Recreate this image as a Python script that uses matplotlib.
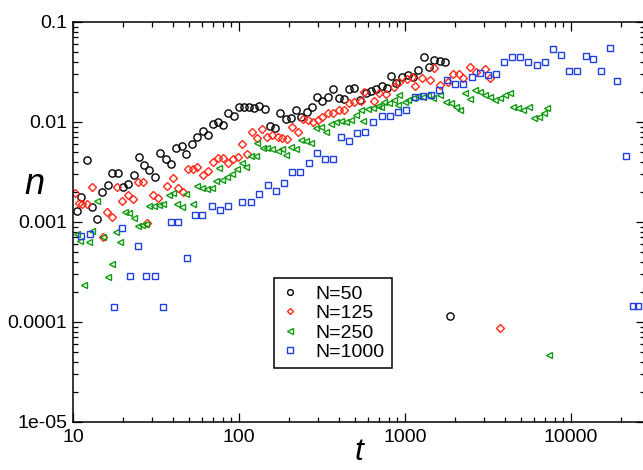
import matplotlib
matplotlib.use("Agg")
import matplotlib.pyplot as plt
from matplotlib.ticker import LogLocator, FixedLocator, FixedFormatter, NullFormatter

plt.rcParams['font.family'] = ['Liberation Sans', 'DejaVu Sans']

# number density n(t) for several system sizes
t_50 = [10.5, 11.2, 12.1, 13.0, 13.9, 15.0, 16.2, 17.3, 18.7, 20.1, 21.5, 23.2, 25.1, 26.8,
        28.8, 31.2, 33.4, 36.3, 38.8, 41.7, 45.2, 48.0, 51.9, 55.6, 60.4, 64.8, 69.4, 74.4,
        80.4, 86.2, 93.3, 100, 107, 115, 123, 132, 143, 153, 165, 178, 191, 207, 222, 237,
        256, 274, 294, 318, 344, 368, 400, 429, 460, 493, 534, 580, 622, 673, 725, 777, 820,
        887, 955, 1047, 1122, 1202, 1302, 1401, 1501, 1625, 1742, 1867]
n_50 = [1.30e-3, 1.77e-3, 4.17e-3, 1.42e-3, 1.06e-3, 2.01e-3, 2.37e-3, 3.06e-3, 3.06e-3,
        2.26e-3, 2.40e-3, 2.95e-3, 4.47e-3, 3.72e-3, 3.31e-3, 2.82e-3, 4.90e-3, 4.27e-3,
        3.80e-3, 5.50e-3, 5.75e-3, 4.79e-3, 6.03e-3, 7.08e-3, 8.13e-3, 7.41e-3, 9.55e-3,
        1.00e-2, 9.33e-3, 1.23e-2, 1.15e-2, 1.41e-2, 1.41e-2, 1.40e-2, 1.37e-2, 1.45e-2,
        1.34e-2, 9.12e-3, 8.71e-3, 1.23e-2, 1.07e-2, 1.10e-2, 1.32e-2, 1.13e-2, 1.27e-2,
        1.40e-2, 1.79e-2, 1.63e-2, 1.77e-2, 2.12e-2, 1.73e-2, 1.69e-2, 2.12e-2, 2.21e-2,
        1.66e-2, 1.96e-2, 2.05e-2, 2.12e-2, 2.29e-2, 2.17e-2, 2.88e-2, 2.47e-2, 2.84e-2,
        2.95e-2, 2.84e-2, 3.31e-2, 4.50e-2, 3.57e-2, 4.17e-2, 4.07e-2, 3.94e-2, 1.16e-4]

t_125 = [10.3, 10.8, 11.4, 12.2, 13.1, 15.1, 16.1, 17.2, 18.5, 19.8, 21.4, 22.9, 24.5, 26.3,
         28.0, 30.3, 32.5, 37.1, 39.9, 42.7, 46.2, 49.1, 52.6, 56.2, 60.4, 65.0, 70.0, 75.0,
         80.4, 86.2, 92.4, 99.0, 104, 112, 120, 128, 138, 148, 159, 171, 183, 196, 210, 226,
         242, 259, 278, 298, 318, 343, 367, 400, 429, 460, 493, 541, 566, 650, 697, 774, 858,
         920, 1024, 1098, 1149, 1260, 1506, 1415, 1625, 1823, 1960, 2115, 2251, 2463, 2700,
         3033, 3251, 3735]
n_125 = [1.96e-3, 1.54e-3, 1.51e-3, 1.51e-3, 2.24e-3, 7.13e-4, 1.25e-3, 1.11e-3, 2.22e-3,
         1.61e-3, 1.88e-3, 1.68e-3, 2.52e-3, 2.53e-3, 9.84e-4, 1.86e-3, 1.74e-3, 2.31e-3,
         2.74e-3, 2.19e-3, 1.98e-3, 3.37e-3, 3.41e-3, 3.55e-3, 2.94e-3, 3.24e-3, 3.96e-3,
         4.38e-3, 4.38e-3, 3.86e-3, 4.27e-3, 4.44e-3, 6.03e-3, 4.82e-3, 8.00e-3, 6.84e-3,
         8.45e-3, 7.13e-3, 7.41e-3, 7.13e-3, 6.97e-3, 6.76e-3, 8.97e-3, 7.89e-3, 1.06e-2,
         1.05e-2, 1.01e-2, 1.05e-2, 1.11e-2, 1.22e-2, 1.24e-2, 1.32e-2, 1.32e-2, 1.55e-2,
         1.58e-2, 1.64e-2, 1.98e-2, 1.62e-2, 1.94e-2, 1.91e-2, 2.26e-2, 2.53e-2, 2.68e-2,
         2.84e-2, 2.31e-2, 2.74e-2, 3.43e-2, 2.63e-2, 2.34e-2, 2.51e-2, 3.02e-2, 2.99e-2,
         2.74e-2, 3.57e-2, 3.13e-2, 3.41e-2, 2.74e-2, 8.71e-5]

t_250 = [10.5, 11.0, 11.6, 12.4, 13.0, 13.9, 15.2, 16.3, 17.2, 18.2, 19.1, 20.7, 21.9, 23.2,
         24.7, 25.9, 27.6, 28.7, 30.8, 33.0, 35.1, 37.7, 40.2, 42.3, 45.2, 48.0, 53.1, 56.0,
         59.6, 63.9, 68.5, 73.0, 75.8, 78.7, 84.3, 90.4, 97.9, 104, 111, 118, 126, 129, 140,
         148, 159, 171, 183, 192, 206, 221, 237, 254, 272, 292, 313, 335, 360, 386, 413, 443,
         475, 510, 541, 559, 599, 643, 689, 722, 747, 801, 858, 911, 920, 1000, 1047, 1122,
         1202, 1291, 1384, 1484, 1625, 1766, 1893, 2029, 2144, 2298, 2463, 2640, 2830, 3033,
         3251, 3485, 3735, 4003, 4290, 4490, 4810, 5160, 5590, 5990, 6430, 6890, 7220, 7400]
n_250 = [7.59e-4, 6.46e-4, 2.34e-4, 6.24e-4, 8.22e-4, 1.61e-3, 7.08e-4, 2.85e-4, 3.80e-4,
         8.00e-4, 6.24e-4, 1.27e-3, 1.22e-3, 1.10e-3, 9.06e-4, 9.33e-4, 9.62e-4, 1.46e-3,
         1.43e-3, 1.48e-3, 1.53e-3, 1.88e-3, 1.93e-3, 1.50e-3, 1.40e-3, 1.89e-3, 1.51e-3,
         2.29e-3, 2.19e-3, 2.16e-3, 2.19e-3, 2.57e-3, 3.44e-3, 2.63e-3, 2.82e-3, 2.99e-3,
         3.35e-3, 3.85e-3, 3.55e-3, 4.57e-3, 4.57e-3, 6.12e-3, 5.45e-3, 5.45e-3, 5.33e-3,
         5.13e-3, 5.37e-3, 4.68e-3, 5.66e-3, 5.37e-3, 6.61e-3, 6.50e-3, 6.21e-3, 8.65e-3,
         8.97e-3, 8.00e-3, 9.55e-3, 1.007e-2, 1.03e-2, 1.007e-2, 1.047e-2, 1.175e-2, 1.318e-2,
         1.023e-2, 1.34e-2, 1.37e-2, 1.445e-2, 1.40e-2, 1.60e-2, 1.54e-2, 1.66e-2, 1.48e-2,
         1.86e-2, 1.60e-2, 1.66e-2, 1.73e-2, 1.82e-2, 1.79e-2, 1.86e-2, 1.75e-2, 1.86e-2,
         1.60e-2, 1.54e-2, 1.42e-2, 1.32e-2, 1.94e-2, 1.69e-2, 2.09e-2, 2.01e-2, 1.86e-2,
         1.79e-2, 1.66e-2, 1.73e-2, 1.86e-2, 1.94e-2, 1.42e-2, 1.37e-2, 1.32e-2, 1.42e-2,
         1.09e-2, 1.13e-2, 1.22e-2, 1.37e-2, 4.68e-5]

t_1000 = [11.2, 12.7, 17.7, 19.7, 22.0, 24.7, 27.6, 31.2, 35.0, 38.9, 43.1, 48.7, 54.6, 59.8,
          68.5, 76.5, 85.8, 105, 118, 132, 150, 167, 187, 210, 233, 263, 294, 328, 368, 413,
          462, 517, 576, 646, 727, 815, 911, 1018, 1149, 1289, 1434, 1609, 1790, 2000, 2245,
          2537, 2830, 3155, 3543, 3960, 4430, 4960, 5550, 6220, 6970, 7770, 8670, 9770,
          10900, 12300, 13600, 15300, 17200, 19100, 21400, 23700, 25400]
n_1000 = [7.24e-4, 7.59e-4, 1.42e-4, 8.65e-4, 2.88e-4, 5.75e-4, 2.88e-4, 2.88e-4, 1.42e-4,
          1.007e-3, 1.007e-3, 4.33e-4, 1.175e-3, 1.175e-3, 1.445e-3, 1.318e-3, 1.445e-3,
          1.60e-3, 1.60e-3, 1.91e-3, 2.34e-3, 2.05e-3, 2.47e-3, 3.18e-3, 3.18e-3, 3.92e-3,
          4.93e-3, 4.24e-3, 4.24e-3, 7.03e-3, 6.50e-3, 7.76e-3, 7.89e-3, 1.007e-2, 1.153e-2,
          1.153e-2, 1.245e-2, 1.33e-2, 1.76e-2, 1.83e-2, 1.86e-2, 2.07e-2, 2.63e-2, 2.38e-2,
          2.38e-2, 2.82e-2, 3.07e-2, 2.93e-2, 3.04e-2, 3.95e-2, 4.50e-2, 4.50e-2, 3.95e-2,
          3.74e-2, 3.94e-2, 5.41e-2, 4.68e-2, 3.26e-2, 3.26e-2, 4.57e-2, 4.24e-2, 3.24e-2,
          5.45e-2, 2.57e-2, 4.57e-3, 1.445e-4, 1.445e-4]

x_ticks = [10, 100, 1000, 10000]
x_labels = ['10', '100', '1000', '10000']
y_ticks = [1e-5, 1e-4, 1e-3, 1e-2, 1e-1]
y_labels = ['1e-05', '0.0001', '0.001', '0.01', '0.1']

series = [
    (t_50, n_50, 'o', 'black', 5.2, 'N=50'),
    (t_125, n_125, 'D', '#ff2a1a', 3.8, 'N=125'),
    (t_250, n_250, '<', '#109a10', 4.6, 'N=250'),
    (t_1000, n_1000, 's', '#1f3fe0', 4.6, 'N=1000'),
]

fig = plt.figure(figsize=(6.43, 4.70), dpi=100)
ax = fig.add_axes([73 / 643, 48 / 470, 572 / 643, 400 / 470])

for t, n, marker, color, size, label in series:
    ax.plot(t, n, linestyle='none', marker=marker, markersize=size,
            markerfacecolor='none', markeredgecolor=color, markeredgewidth=1.0,
            label=label)

ax.set_xscale('log')
ax.set_yscale('log')
ax.set_xlim(10, 28000)
ax.set_ylim(1e-5, 0.1)

ax.xaxis.set_major_locator(FixedLocator(x_ticks))
ax.xaxis.set_major_formatter(FixedFormatter(x_labels))
ax.yaxis.set_major_locator(FixedLocator(y_ticks))
ax.yaxis.set_major_formatter(FixedFormatter(y_labels))
for axis in (ax.xaxis, ax.yaxis):
    axis.set_minor_locator(LogLocator(base=10, subs=range(2, 10), numticks=20))
    axis.set_minor_formatter(NullFormatter())

ax.tick_params(which='both', direction='in', top=True, right=True, width=0.9,
               labelsize=14, colors='black')
ax.tick_params(which='major', length=6.5)
ax.tick_params(which='minor', length=3.5)
ax.tick_params(axis='x', pad=5)
ax.tick_params(axis='y', pad=4)
for spine in ax.spines.values():
    spine.set_linewidth(1.1)

ax.set_xlabel('t', fontsize=23, style='italic', va='bottom')
ax.set_ylabel('n', fontsize=26, style='italic', rotation=0)
ax.xaxis.set_label_coords(0.5, -0.113)
ax.yaxis.set_label_coords(-0.068, 0.595)
ax.yaxis.label.set_verticalalignment('center')

leg = ax.legend(loc='lower left', bbox_to_anchor=(0.351, 0.135), fontsize=14,
                markerscale=0.8, handlelength=1.0, handletextpad=0.8,
                labelspacing=0.1, borderpad=0.35, borderaxespad=0.0,
                frameon=True, fancybox=False, framealpha=1.0)
leg.get_frame().set_edgecolor('black')
leg.get_frame().set_linewidth(1.1)

fig.savefig('out.png', dpi=100)
